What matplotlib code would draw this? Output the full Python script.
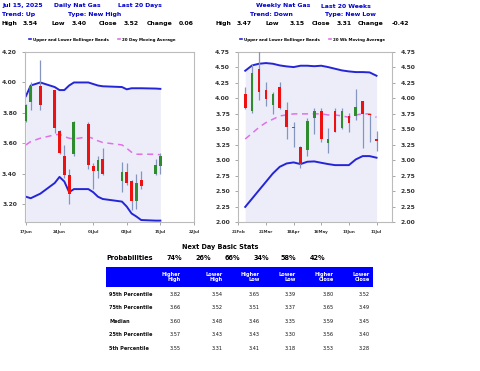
import matplotlib
matplotlib.use('Agg')
import matplotlib.pyplot as plt
import matplotlib.dates as mdates
from matplotlib.patches import Rectangle
from matplotlib.lines import Line2D
import numpy as np
import pandas as pd

# daily candles (last 20 days)
d_dates = ['2025-06-17', '2025-06-18', '2025-06-20', '2025-06-23', '2025-06-24', '2025-06-25',
           '2025-06-26', '2025-06-27', '2025-06-30', '2025-07-01', '2025-07-02', '2025-07-03',
           '2025-07-07', '2025-07-08', '2025-07-09', '2025-07-10', '2025-07-11', '2025-07-14',
           '2025-07-15']
d_open = [3.75, 3.87, 3.98, 3.95, 3.68, 3.52, 3.39, 3.53, 3.73, 3.45, 3.42, 3.50,
          3.35, 3.41, 3.35, 3.22, 3.36, 3.40, 3.45]
d_high = [3.86, 4.00, 4.15, 3.95, 3.69, 3.59, 3.43, 3.75, 3.74, 3.47, 3.52, 3.57,
          3.48, 3.47, 3.36, 3.40, 3.42, 3.50, 3.54]
d_low = [3.74, 3.82, 3.82, 3.67, 3.53, 3.37, 3.20, 3.52, 3.43, 3.30, 3.37, 3.39,
         3.28, 3.33, 3.16, 3.17, 3.30, 3.39, 3.40]
d_close = [3.85, 3.98, 3.85, 3.70, 3.54, 3.39, 3.27, 3.74, 3.46, 3.42, 3.49, 3.40,
           3.41, 3.34, 3.22, 3.34, 3.32, 3.46, 3.52]
d_upper = [3.91, 3.98, 4.00, 3.97, 3.95, 3.95, 3.98, 4.00, 4.00, 3.99, 3.98, 3.975,
           3.97, 3.955, 3.962, 3.962, 3.962, 3.96, 3.958]
d_lower = [3.25, 3.24, 3.27, 3.34, 3.38, 3.35, 3.28, 3.30, 3.30, 3.28, 3.25, 3.235,
           3.218, 3.185, 3.14, 3.12, 3.097, 3.093, 3.093]
d_ma = [3.59, 3.612, 3.634, 3.656, 3.66, 3.645, 3.634, 3.63, 3.643, 3.632, 3.617, 3.606,
        3.59, 3.568, 3.542, 3.529, 3.529, 3.529, 3.525]

# weekly candles (last 20 weeks)
w_dates = ['2025-02-28', '2025-03-07', '2025-03-14', '2025-03-21', '2025-03-28', '2025-04-04',
           '2025-04-11', '2025-04-18', '2025-04-25', '2025-05-02', '2025-05-09', '2025-05-16',
           '2025-05-23', '2025-05-30', '2025-06-06', '2025-06-13', '2025-06-20', '2025-06-27',
           '2025-07-04', '2025-07-11']
w_open = [4.07, 3.79, 4.47, 4.14, 3.90, 4.18, 3.81, 3.52, 3.21, 3.17, 3.68, 3.79,
          3.27, 3.79, 3.52, 3.72, 3.72, 3.95, 3.75, 3.35]
w_high = [4.18, 4.55, 4.76, 4.26, 4.11, 4.26, 3.94, 3.62, 3.23, 3.68, 3.85, 3.84,
          3.52, 3.84, 3.84, 3.77, 4.15, 3.95, 3.75, 3.47]
w_low = [3.82, 3.76, 3.98, 3.88, 3.75, 3.82, 3.35, 3.21, 2.88, 3.07, 3.43, 3.30,
         3.11, 3.45, 3.50, 3.45, 3.65, 3.20, 3.29, 3.15]
w_close = [3.84, 4.41, 4.11, 3.99, 4.07, 3.84, 3.54, 3.54, 2.94, 3.64, 3.80, 3.34,
           3.34, 3.45, 3.79, 3.60, 3.86, 3.75, 3.73, 3.31]
w_upper = [4.447, 4.533, 4.56, 4.571, 4.56, 4.533, 4.517, 4.506, 4.528, 4.528, 4.52, 4.528,
           4.506, 4.479, 4.452, 4.436, 4.425, 4.425, 4.42, 4.366]
w_lower = [2.244, 2.379, 2.515, 2.65, 2.785, 2.893, 2.947, 2.964, 2.937, 2.975, 2.98, 2.958,
           2.937, 2.92, 2.92, 2.92, 3.012, 3.066, 3.066, 3.04]
w_ma = [3.343, 3.435, 3.532, 3.608, 3.662, 3.716, 3.732, 3.749, 3.749, 3.749, 3.749, 3.749,
        3.732, 3.732, 3.716, 3.694, 3.732, 3.749, 3.749, 3.694]

# next day stats table
col_labels = ['Higher\nHigh', 'Lower\nHigh', 'Higher\nLow', 'Lower\nLow', 'Higher\nClose', 'Lower\nClose']
probs = ['74%', '26%', '66%', '34%', '58%', '42%']
row_labels = ['95th Percentile', '75th Percentile', 'Median', '25th Percentile', '5th Percentile']
stats = [[3.82, 3.54, 3.65, 3.39, 3.80, 3.52],
         [3.66, 3.52, 3.51, 3.37, 3.65, 3.49],
         [3.60, 3.48, 3.46, 3.35, 3.59, 3.45],
         [3.57, 3.43, 3.43, 3.30, 3.56, 3.40],
         [3.55, 3.31, 3.41, 3.18, 3.53, 3.28]]

BLUE = '#0000CD'
BAND = '#2525D8'
MA = '#E070E8'
GREEN = '#2E8B2E'
RED = '#EE1111'
WICK = '#8496BE'
FILL = '#EDEDFA'
SPINE = '#BBBBBB'

fig = plt.figure(figsize=(4.8, 3.71), dpi=100)
W, H = 480.0, 371.0


def ftext(x, y, s, **kw):
    fig.text(x / W, 1 - y / H, s, **kw)


def candles(ax, dates, o, h, l, c, width):
    o = np.array(o); h = np.array(h); l = np.array(l); c = np.array(c)
    up = c >= o
    cols = [GREEN if u else RED for u in up]
    ax.vlines(dates, l, h, color=WICK, lw=0.9, zorder=3)
    body = np.where(np.abs(c - o) < 0.008, 0.008, c - o)
    ax.bar(dates, body, bottom=o, width=width, color=cols, zorder=4, linewidth=0)


def style(ax):
    for s in ax.spines.values():
        s.set_color(SPINE)
        s.set_linewidth(0.8)
    ax.tick_params(colors='#999999', length=2.5, width=0.6)
    ax.set_facecolor('white')


# ---- daily chart
dx = pd.to_datetime(d_dates)
ax1 = fig.add_axes([25.3 / W, 1 - 222 / H, 168.7 / W, 170 / H])
ylo1 = 3.084
ax1.fill_between(dx, ylo1, d_upper, color=FILL, lw=0, zorder=1)
ax1.plot(dx, d_upper, color=BAND, lw=1.4, zorder=2)
ax1.plot(dx, d_lower, color=BAND, lw=1.4, zorder=2)
ax1.plot(dx, d_ma, color=MA, lw=1.1, ls=(0, (4, 3)), zorder=2)
candles(ax1, dx, d_open, d_high, d_low, d_close, 0.6)
ax1.set_xlim(pd.Timestamp('2025-06-16 21:00'), pd.Timestamp('2025-07-22'))
ax1.set_ylim(ylo1, 4.20)
ax1.set_yticks([3.20, 3.40, 3.60, 3.80, 4.00, 4.20])
ax1.yaxis.set_major_formatter(matplotlib.ticker.FormatStrFormatter('%.2f'))
ax1.set_xticks(pd.to_datetime(['2025-06-17', '2025-06-24', '2025-07-01', '2025-07-08',
                               '2025-07-15', '2025-07-22']))
ax1.xaxis.set_major_formatter(mdates.DateFormatter('%d%b'))
style(ax1)
for t in ax1.get_yticklabels():
    t.set_fontsize(4.3); t.set_fontweight('bold'); t.set_color('#333333')
for t in ax1.get_xticklabels():
    t.set_fontsize(2.9); t.set_fontweight('bold'); t.set_color('#333333')

# ---- weekly chart
wx = pd.to_datetime(w_dates)
ax2 = fig.add_axes([238.3 / W, 1 - 222 / H, 154 / W, 170 / H])
ylo2 = 2.00
ax2.fill_between(wx, ylo2, w_upper, color=FILL, lw=0, zorder=1)
ax2.plot(wx, w_upper, color=BAND, lw=1.4, zorder=2)
ax2.plot(wx, w_lower, color=BAND, lw=1.4, zorder=2)
ax2.plot(wx, w_ma, color=MA, lw=1.1, ls=(0, (4, 3)), zorder=2)
candles(ax2, wx, w_open, w_high, w_low, w_close, 2.7)
ax2.set_xlim(pd.Timestamp('2025-02-21'), pd.Timestamp('2025-07-27'))
ax2.set_ylim(ylo2, 4.75)
ax2.set_yticks(np.arange(2.00, 4.76, 0.25))
ax2.yaxis.set_major_formatter(matplotlib.ticker.FormatStrFormatter('%.2f'))
ax2.set_xticks(pd.to_datetime(['2025-02-21', '2025-03-21', '2025-04-18', '2025-05-16',
                               '2025-06-13', '2025-07-11']))
ax2.xaxis.set_major_formatter(mdates.DateFormatter('%d%b'))
style(ax2)
ax2.tick_params(axis='y', right=True, labelright=True)
for t in ax2.get_yticklabels():
    t.set_fontsize(4.3); t.set_fontweight('bold'); t.set_color('#333333')
for t in ax2.yaxis.get_ticklabels(which='major'):
    pass
for lab in ax2.yaxis.get_majorticklabels():
    lab.set_fontsize(4.3)
for t in ax2.get_xticklabels():
    t.set_fontsize(2.9); t.set_fontweight('bold'); t.set_color('#333333')
ax2.tick_params(axis='y', labelsize=4.3)
ax2.tick_params(axis='x', labelsize=2.9)

# ---- legends
for ax, lab, x0 in [(ax1, '20 Day Moving Average', 25), (ax2, '20 Wk Moving Average', 236)]:
    handles = [Line2D([], [], color=BAND, lw=1.2), Line2D([], [], color=MA, lw=1.2)]
    fig.legend(handles, ['Upper and Lower Bollinger Bands', lab], loc='center left',
               bbox_to_anchor=(x0 / W, 1 - 39.5 / H), ncol=2, frameon=False,
               handlelength=0.5, handletextpad=0.6, columnspacing=2.2,
               prop={'size': 2.9, 'weight': 'bold'})

# ---- headers
hb = dict(fontsize=4.4, fontweight='bold', color=BLUE, va='center')
hk = dict(fontsize=4.4, fontweight='bold', color='black', va='center')
ftext(2, 6, 'Jul 15, 2025', **hb)
ftext(54, 6, 'Daily Nat Gas', **hb)
ftext(118, 6, 'Last 20 Days', **hb)
ftext(2, 14.5, 'Trend: Up', **hb)
ftext(68, 14.5, 'Type: New High', **hb)
for x, s in [(2, 'High'), (23, f'{d_high[-1]:.2f}'), (51, 'Low'), (72, f'{d_low[-1]:.2f}'),
             (99, 'Close'), (124, f'{d_close[-1]:.2f}'), (147, 'Change'),
             (179, f'{d_close[-1] - d_close[-2]:.2f}')]:
    ftext(x, 23.3, s, **hk)
ftext(256.5, 6, 'Weekly Nat Gas', **hb)
ftext(321, 6, 'Last 20 Weeks', **hb)
ftext(250, 14.5, 'Trend: Down', **hb)
ftext(325, 14.5, 'Type: New Low', **hb)
for x, s in [(215, 'High'), (237, f'{w_high[-1]:.2f}'), (265, 'Low'), (290, f'{w_low[-1]:.2f}'),
             (312, 'Close'), (337, f'{w_close[-1]:.2f}'), (358, 'Change'),
             (392, f'{w_close[-1] - w_close[-2]:.2f}')]:
    ftext(x, 23.3, s, **hk)

# ---- stats table
ftext(220, 247.5, 'Next Day Basic Stats', fontsize=4.7, fontweight='bold', ha='center', va='center')
ftext(106, 257.5, 'Probabilities', fontsize=4.7, fontweight='bold', va='center')
prob_x = [174.5, 203, 232, 261, 288.5, 317.5]
for x, p in zip(prob_x, probs):
    ftext(x, 257.5, p, fontsize=4.7, fontweight='bold', ha='center', va='center')

fig.add_artist(Rectangle((106 / W, 1 - 286.7 / H), 267 / W, 19.4 / H,
                         transform=fig.transFigure, color='#0000FF', lw=0))
col_right = [180.5, 222.3, 259.8, 296, 333.8, 370]
for x, c in zip(col_right, col_labels):
    ftext(x, 277.2, c, fontsize=3.6, fontweight='bold', color='white', ha='right',
          va='center', linespacing=1.05, multialignment='right')
row_y = [294, 307.7, 321.3, 335, 348.7]
for y, lab, vals in zip(row_y, row_labels, stats):
    ftext(109, y, lab, fontsize=3.6, fontweight='bold', va='center', color='#111111')
    for x, v in zip(col_right, vals):
        ftext(x, y, f'{v:.2f}', fontsize=3.6, ha='right', va='center', color='#111111')

fig.savefig('out.png', dpi=100)
